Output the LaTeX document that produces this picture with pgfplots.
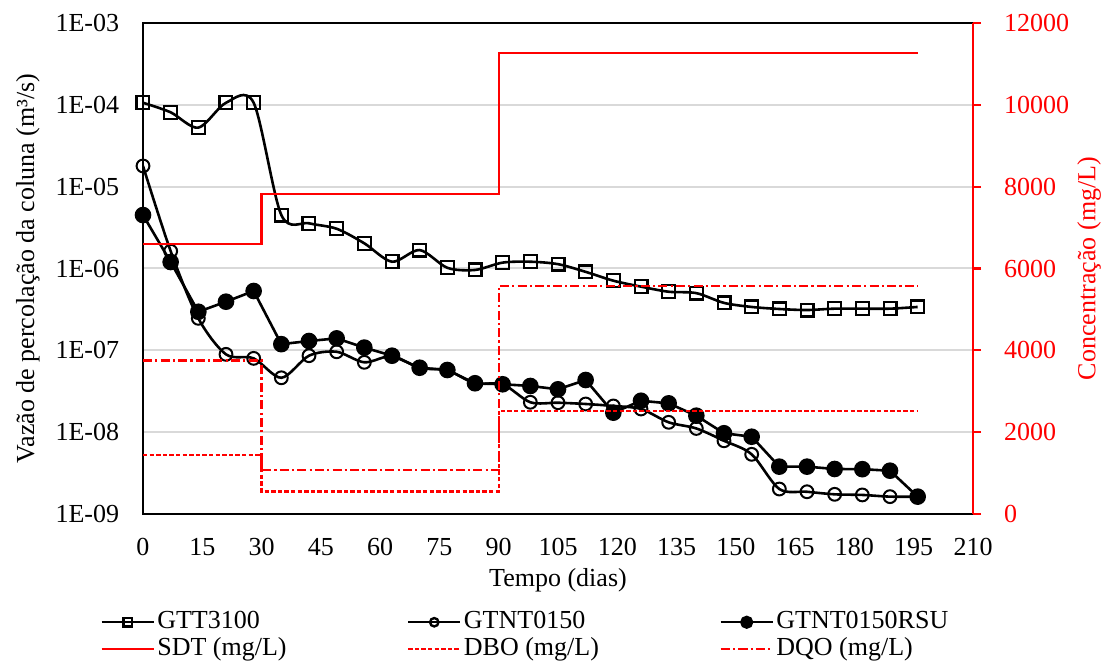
\documentclass[border=0pt]{standalone}
\usepackage{pgfplots}
\pgfplotsset{compat=1.18}
\usepackage{fontspec}
\setmainfont{Liberation Serif}
\definecolor{gridgray}{HTML}{D9D9D9}
\definecolor{xlred}{HTML}{FF0000}
\begin{document}
\fontsize{13}{15.6}\selectfont
\begin{tikzpicture}
\useasboundingbox (-71.5pt,-74pt) rectangle (482.5pt,257pt);
\begin{axis}[
  at={(0pt,0pt)}, anchor=south west,
  scale only axis, width=415pt, height=245.5pt,
  xmin=0, xmax=210, xtick={0,15,...,210},
  ymode=log, ymin=1e-9, ymax=1e-3,
  ytick={1e-9,1e-8,1e-7,1e-6,1e-5,1e-4,1e-3},
  yticklabels={1E-09,1E-08,1E-07,1E-06,1E-05,1E-04,1E-03},
  yminorticks=false,
  ymajorgrids, major grid style={gridgray, line width=1pt},
  major tick length=0pt,
  axis line style={black, line width=1.2pt},
  /pgf/number format/assume math mode=true,
  xticklabel style={yshift=-7.5pt},
  yticklabel style={xshift=-7.4pt},
  xlabel={Tempo (dias)},
  ylabel={Vazão de percolação da coluna (m³/s)},
  every axis x label/.style={at={(axis description cs:0.5,-0.1344)}, anchor=center},
  every axis y label/.style={at={(axis description cs:-0.1386,0.5)}, anchor=center, rotate=90},
]
\addplot[black, line width=1.3pt, smooth, mark=square, mark size=3.2pt, mark options={fill=white, solid, line width=1.1pt}] coordinates {
(0,1.06e-4) (7,8.1e-5) (14,5.26e-5) (21,1.06e-4) (28,1.06e-4) (35,4.5e-6) (42,3.57e-6) (49,3.06e-6)
(56,2.03e-6) (63,1.21e-6) (70,1.68e-6) (77,1.02e-6) (84,9.6e-7) (91,1.18e-6) (98,1.21e-6) (105,1.13e-6)
(112,9.1e-7) (119,7.1e-7) (126,6.0e-7) (133,5.2e-7) (140,5.0e-7) (147,3.8e-7) (154,3.39e-7) (161,3.2e-7)
(168,3.11e-7) (175,3.23e-7) (182,3.23e-7) (189,3.23e-7) (196,3.39e-7)};
\addplot[black, line width=1.3pt, smooth, mark=o, mark size=3.2pt, mark options={fill=white, solid, line width=1pt}] coordinates {
(0,1.79e-5) (7,1.63e-6) (14,2.46e-7) (21,8.93e-8) (28,7.98e-8) (35,4.62e-8) (42,8.6e-8) (49,9.6e-8)
(56,7.14e-8) (63,8.5e-8) (70,6.1e-8) (77,5.7e-8) (84,3.95e-8) (91,3.85e-8) (98,2.32e-8) (105,2.29e-8)
(112,2.21e-8) (119,2.09e-8) (126,1.92e-8) (133,1.32e-8) (140,1.11e-8) (147,7.85e-9) (154,5.36e-9) (161,2.02e-9)
(168,1.87e-9) (175,1.74e-9) (182,1.71e-9) (189,1.63e-9) (196,1.63e-9)};
\addplot[black, line width=1.3pt, mark=*, mark size=3.5pt, mark options={fill=black, solid}] coordinates {
(0,4.5e-6) (7,1.2e-6) (14,2.96e-7) (21,3.93e-7) (28,5.31e-7) (35,1.19e-7) (42,1.3e-7) (49,1.4e-7)
(56,1.08e-7) (63,8.6e-8) (70,6.13e-8) (77,5.75e-8) (84,3.96e-8) (91,3.85e-8) (98,3.67e-8) (105,3.34e-8)
(112,4.34e-8) (119,1.73e-8) (126,2.42e-8) (133,2.25e-8) (140,1.59e-8) (147,9.7e-9) (154,8.8e-9) (161,3.79e-9)
(168,3.79e-9) (175,3.55e-9) (182,3.53e-9) (189,3.38e-9) (196,1.63e-9)};
\end{axis}
\begin{axis}[
  at={(0pt,0pt)}, anchor=south west,
  scale only axis, width=415pt, height=245.5pt,
  xmin=0, xmax=210,
  axis x line=none, axis y line*=right,
  ymin=0, ymax=12000, ytick={0,2000,...,12000},
  scaled y ticks=false,
  /pgf/number format/1000 sep={},
  /pgf/number format/assume math mode=true,
  y axis line style={xlred, line width=1.2pt},
  ytick style={xlred, line width=1.1pt},
  tick align=outside, major tick length=4pt,
  yticklabel style={text=xlred, xshift=7pt},
  ylabel={Concentração (mg/L)},
  every axis y label/.style={at={(axis description cs:1.1398,0.5)}, anchor=center, rotate=90, text=xlred},
  legend columns=3,
  legend cell align=left,
  legend style={at={(axis description cs:-0.0518,-0.193)}, anchor=north west, draw=none, fill=none,
    inner sep=0pt, nodes={inner sep=1.25pt},
    /tikz/every even column/.append style={column sep=59pt}},
  legend image code/.code={\draw[mark repeat=2,mark phase=2,#1] plot coordinates {(0pt,0pt) (13pt,0pt) (26pt,0pt)};},
]
\addlegendimage{black, line width=1.2pt, mark=square, mark size=2.1pt, mark options={fill=white, solid}}
\addlegendentry{GTT3100}
\addlegendimage{black, line width=1.2pt, mark=o, mark size=2.1pt, mark options={fill=white, solid}}
\addlegendentry{GTNT0150}
\addlegendimage{black, line width=1.2pt, mark=*, mark size=2.7pt, mark options={fill=black, solid}}
\addlegendentry{GTNT0150RSU}
\addplot[xlred, line width=1.2pt, const plot] coordinates {(0,6600) (30,7820) (90,11270) (196,11270)};
\addlegendentry{SDT (mg/L)}
\addplot[xlred, line width=1.1pt, const plot, dash pattern=on 2.2pt off 1.1pt] coordinates {(0,1450) (30,550) (90,2520) (196,2520)};
\addlegendentry{DBO (mg/L)}
\addplot[xlred, line width=1.1pt, const plot, dash pattern=on 4.5pt off 1.6pt on 1.1pt off 1.6pt] coordinates {(0,3750) (30,1070) (90,5580) (196,5580)};
\addlegendentry{DQO (mg/L)}
\end{axis}
\end{tikzpicture}
\end{document}
